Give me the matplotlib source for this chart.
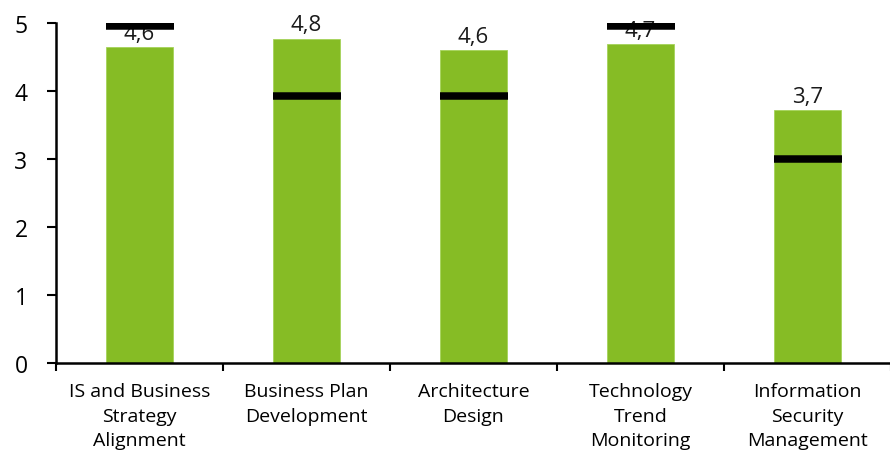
import numpy as np
import matplotlib
matplotlib.use("Agg")
import matplotlib.pyplot as plt

plt.rcParams['font.family'] = ['Open Sans', 'DejaVu Sans']

categories = ["IS and Business\nStrategy\nAlignment", "Business Plan\nDevelopment",
              "Architecture\nDesign", "Technology\nTrend\nMonitoring",
              "Information\nSecurity\nManagement"]
scores = [4.64, 4.77, 4.60, 4.69, 3.72]
score_labels = ["4,6", "4,8", "4,6", "4,7", "3,7"]
targets = [4.96, 3.93, 3.93, 4.96, 3.0]

fig = plt.figure(figsize=(8.9, 4.56), dpi=100)
ax = fig.add_axes([56/890, 92/456, 835/890, 340/456])

x = np.arange(len(categories))
ax.bar(x, scores, width=0.4, color="#86BC25", edgecolor="#a5d35a", linewidth=0.6, zorder=2)

# value labels, baseline ~8px above the bar top
for xi, s, lab in zip(x, scores, score_labels):
    ax.annotate(lab, (xi, s), xytext=(0, 6), textcoords="offset points",
                ha="center", va="baseline", fontsize=16, color="#1a1a1a", zorder=3)

# target markers
ax.hlines(targets, x - 0.2, x + 0.205, colors="black", linewidth=5.4, zorder=4)

ax.set_xlim(-0.5, 4.5)
ax.set_ylim(0, 5)
ax.set_yticks(range(6))
ax.tick_params(axis="y", labelsize=16.5, length=6.5, width=1.5, pad=14)
ax.set_xticks(np.arange(-0.5, 5, 1))
ax.set_xticklabels([])
ax.set_xticks(x, minor=True)
ax.set_xticklabels(categories, minor=True, fontsize=14, linespacing=1.45)
ax.tick_params(axis="x", which="major", length=6, width=1.5, direction="out")
ax.tick_params(axis="x", which="minor", length=0, pad=14)
for sp in ["top", "right"]:
    ax.spines[sp].set_visible(False)
ax.spines["left"].set_linewidth(1.8)
ax.spines["bottom"].set_linewidth(1.8)

fig.savefig("out.png", dpi=100)
